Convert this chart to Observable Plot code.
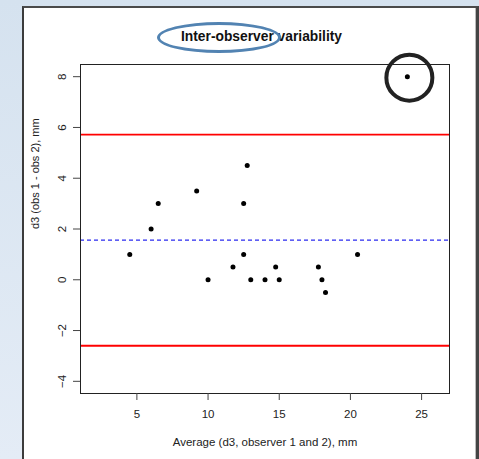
<!DOCTYPE html>
<html>
<head>
<meta charset="utf-8">
<script src="https://cdn.jsdelivr.net/npm/d3@7"></script>
<script src="https://cdn.jsdelivr.net/npm/@observablehq/plot@0.6"></script>
<style>
  html, body { margin: 0; padding: 0; }
  body {
    width: 479px; height: 459px; overflow: hidden; position: relative;
    background: linear-gradient(to bottom, #d5e2ef, #e4ecf6);
    font-family: "Liberation Sans", Arial, sans-serif;
  }
  #panel {
    position: absolute; left: 22px; top: 6px; width: 452px; height: 460px;
    background: #fff;
    border-left: 2px solid #3c3c3c; border-top: 2px solid #4a4a4a; border-right: 3px solid #444;
    box-shadow: inset -1px 0 0 #bbb;
  }
  #chart { position: absolute; left: 0; top: 0; }
  #title {
    position: absolute; left: 181px; top: 29px; white-space: nowrap;
    font-weight: bold; font-size: 13.8px; color: #111;
  }
  #ellipse {
    position: absolute; left: 157px; top: 22px; width: 118px; height: 25px;
    border: 3.5px solid #5283b2; border-radius: 50%;
  }
</style>
</head>
<body>
<div id="panel"></div>
<div id="chart"></div>
<div id="title">Inter-observer variability</div>
<div id="ellipse"></div>
<script>
// Averages (x) and differences (y) of the two observers
const avg  = [4.5, 6, 6.5, 9.2, 10, 11.75, 12.5, 12.5, 12.75, 13, 14, 14.75, 15, 17.75, 18, 18.25, 20.5, 24];
const diff = [1,   2, 3,   3.5, 0,  0.5,   3,    1,    4.5,   0,  0,  0.5,   0,  0.5,   0,  -0.5,  1,    8];
const meanDiff = [1.56];
const limits = [5.72, -2.6];
const xTicks = [5, 10, 15, 20, 25];
const yTicks = [-4, -2, 0, 2, 4, 6, 8];
const highlighted = [{x: 24, y: 8}];

const pts = avg.map((a, i) => ({x: a, y: diff[i]}));

const chart = Plot.plot({
  width: 479, height: 459,
  marginLeft: 80, marginRight: 30, marginTop: 64, marginBottom: 66,
  style: {background: "transparent", fontFamily: "Liberation Sans, Arial, sans-serif", fontSize: "11.5px", color: "#222"},
  x: {domain: [1.04, 26.96]},
  y: {domain: [-4.48, 8.48]},
  marks: [
    Plot.ruleY(limits, {stroke: "#ff0000", strokeWidth: 1.8}),
    Plot.ruleY(meanDiff, {stroke: "#2b2bf0", strokeWidth: 1.1, strokeDasharray: "4,3"}),
    Plot.dot(pts, {x: "x", y: "y", r: 2.5, fill: "#000", stroke: "none"}),
    Plot.dot(highlighted, {x: "x", y: "y", r: 23, fill: "none", stroke: "#222", strokeWidth: 4, dx: 2, dy: 1}),
    Plot.frame({stroke: "#222", strokeWidth: 1}),
    Plot.axisX({ticks: xTicks, tickSize: 7, tickPadding: 9, label: null, stroke: "#444"}),
    Plot.axisY({ticks: yTicks, tickSize: 7, tickPadding: 8, tickRotate: -90, label: null, stroke: "#444"}),
    Plot.text(["Average (d3, observer 1 and 2), mm"], {frameAnchor: "bottom", dy: 52, fontSize: 11.5, fill: "#222"}),
    Plot.text(["d3 (obs 1 - obs 2), mm"], {frameAnchor: "left", dx: -45, rotate: -90, fontSize: 11, fill: "#222"})
  ]
});
document.getElementById("chart").appendChild(chart);
</script>
</body>
</html>
